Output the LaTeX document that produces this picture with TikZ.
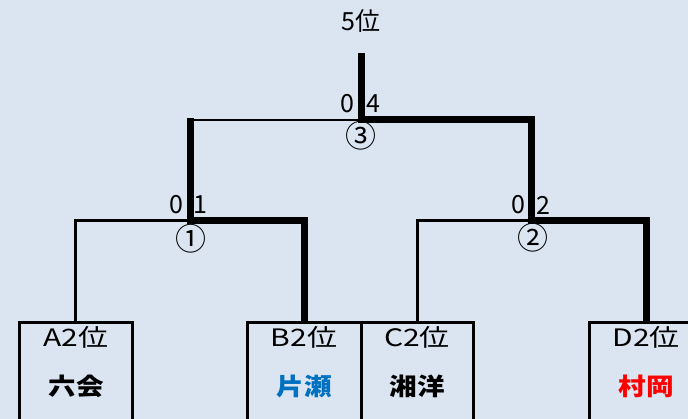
\documentclass[tikz,border=0pt]{standalone}
\usepackage{fontspec}
\usepackage{graphicx}
\setmainfont{Noto Sans CJK JP}
\definecolor{bg}{HTML}{DBE5F1}
\definecolor{teamblue}{HTML}{0070C0}
\definecolor{teamred}{HTML}{FF0000}
\tikzset{
  slot/.style={draw=black, line width=3pt, fill=bg, inner sep=0pt, anchor=north, minimum height=110pt},
  thinline/.style={line width=2.6pt, line join=miter},
  thickline/.style={line width=7pt, line join=miter},
  rank/.style={inner sep=0pt, font=\fontsize{24}{28}\selectfont},
  team/.style={inner sep=0pt, font=\fontsize{24}{28}\selectfont\bfseries},
  score/.style={inner sep=0pt, font=\fontsize{25}{29}\selectfont},
  gameno/.style={inner sep=0pt, font=\fontsize{31}{35}\selectfont},
}
\begin{document}
\begin{tikzpicture}[x=1pt, y=-1pt]
\clip (0,0) rectangle (688,419);
\fill[bg] (0,0) rectangle (688,419);
\useasboundingbox (0,0) rectangle (688,419);

% boxes
\node[slot, minimum width=113pt] (A) at (75.7,321) {};
\node[slot, minimum width=114pt] (B) at (304.5,321) {};
\node[slot, minimum width=112pt] (C) at (417.5,321) {};
\node[slot, minimum width=114pt] (D) at (646,321) {};

% junctions
\coordinate (m1) at (190,220.5);
\coordinate (m2) at (531,220.5);
\coordinate (m3) at (361,120);
\coordinate (top) at (361,53);

% thin (losing) lines
\draw[thinline] (A.north) |- (m1);
\draw[thinline] (C.north) |- (m2);
\draw[thinline] (m1 |- m3) -- (m3);

% thick (winning) lines
\draw[thickline] (B.north) |- (m1) -- ([yshift=2pt]m1 |- m3);
\draw[thickline] (D.north) |- (m2) |- (m3) -- (top);

% box texts
\node[rank] (tA) at (76,337) {\scalebox{1.25}[1]{A2位}};
\node[rank] (tB) at (304,337) {\scalebox{1.25}[1]{B2位}};
\node[rank] (tC) at (417,337) {\scalebox{1.25}[1]{C2位}};
\node[rank] (tD) at (646,337) {\scalebox{1.25}[1]{D2位}};
\node[team] (nA) at (76,386) {\scalebox{1.15}[1]{六会}};
\node[team, text=teamblue] (nB) at (304,386) {\scalebox{1.15}[1]{片瀬}};
\node[team] (nC) at (417,386) {\scalebox{1.15}[1]{湘洋}};
\node[team, text=teamred] (nD) at (646,386) {\scalebox{1.15}[1]{村岡}};

% title
\node[rank, font=\fontsize{25}{29}\selectfont] (title) at (361,21) {5位};

% scores
\node[score] (s3l) at (347,104) {0};
\node[score] (s3r) at (373,104) {4};
\node[score] (s1l) at (176,205) {0};
\node[score] (s1r) at (200,205) {1};
\node[score] (s2l) at (518,205) {0};
\node[score] (s2r) at (543,205) {2};

% game numbers
\node[gameno] (g3) at (361,136) {③};
\node[gameno] (g1) at (191,239) {①};
\node[gameno] (g2) at (533,238) {②};
\end{tikzpicture}
\end{document}
